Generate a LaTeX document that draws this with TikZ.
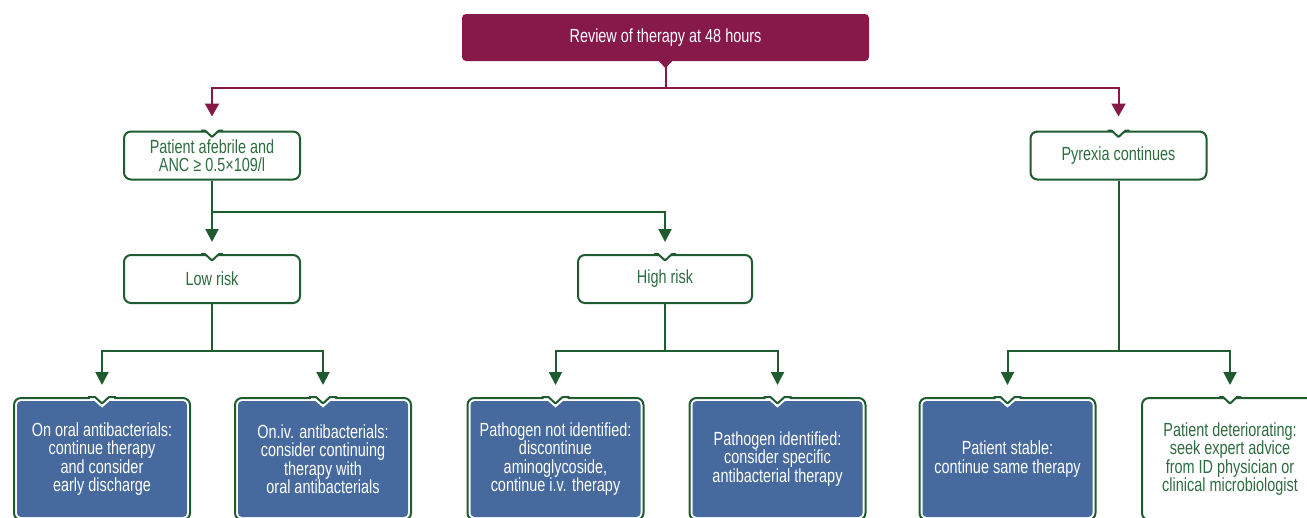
\documentclass[tikz,border=0pt]{standalone}
\usepackage{fontspec}
\setmainfont{Liberation Sans}[FakeStretch=0.76]
\usetikzlibrary{arrows.meta,calc}
\definecolor{maroon}{HTML}{86194A}
\definecolor{dgreen}{HTML}{1E5C30}
\definecolor{tgreen}{HTML}{2F6C40}
\definecolor{boxblue}{HTML}{476A9E}
\tikzset{
 base/.style={align=center, inner sep=0pt, font=\fontsize{19}{18.5}\selectfont},
 topbox/.style={base, fill=maroon, text=white, rounded corners=4pt, minimum width=407pt, minimum height=47pt},
 wbox/.style={base, draw=dgreen, line width=2pt, fill=white, text=tgreen, rounded corners=7pt, minimum width=176pt, minimum height=48pt},
 bbox/.style={base, draw=dgreen, line width=2pt, fill=white, text=white, rounded corners=7pt, minimum width=176pt, minimum height=122pt,
   path picture={\fill[boxblue, rounded corners=4pt] ($(path picture bounding box.north west)+(3,3)$) rectangle ($(path picture bounding box.south east)+(-3,-3)$);}},
 tbox/.style={wbox, minimum height=122pt},
 conn/.style={dgreen, line width=2pt},
 arr/.style={conn, -{Triangle[width=13pt,length=13pt]}, shorten >=12pt},
 mconn/.style={maroon, line width=2pt},
 marr/.style={mconn, -{Triangle[width=14pt,length=13pt]}, shorten >=14pt},
}
\newcommand{\wnotch}[1]{%
 \fill[white] ($(#1.north)+(-8,-1.3)$) -- ($(#1.north)+(8,-1.3)$) -- ($(#1.north)+(0,6.5)$) -- cycle;
 \draw[conn, line join=round] ($(#1.north)+(-11,0)$) -- ($(#1.north)+(-7,0)$) -- ($(#1.north)+(0,6.5)$) -- ($(#1.north)+(7,0)$) -- ($(#1.north)+(11,0)$);}
\newcommand{\bnotch}[1]{%
 \fill[white] ($(#1.north)+(-12,-1.3)$) -- ($(#1.north)+(12,-1.3)$) -- ($(#1.north)+(12,2.9)$) -- ($(#1.north)+(8.7,2.9)$) -- ($(#1.north)+(0,10.5)$) -- ($(#1.north)+(-8.7,2.9)$) -- ($(#1.north)+(-12,2.9)$) -- cycle;
 \draw[conn, line join=round] ($(#1.north)+(-14,0)$) -- ($(#1.north)+(-7,0)$) -- ($(#1.north)+(0,6.5)$) -- ($(#1.north)+(7,0)$) -- ($(#1.north)+(14,0)$);}
\begin{document}
\begin{tikzpicture}[x=1pt,y=-1pt]
\useasboundingbox (0,0) rectangle (1307,517);
\clip (0,0) rectangle (1307,517);
% nodes
\node[topbox] (top) at (665.5,37.5) {Review of therapy at 48 hours};
\node[wbox] (afeb) at (212,155.5) {Patient afebrile and\\ANC ≥ 0.5×109/l};
\node[wbox] (pyr) at (1118.5,155.5) {Pyrexia continues};
\node[wbox] (low) at (212,279) {Low risk};
\node[wbox, minimum width=174pt] (high) at (665,279) {High risk};
\node[bbox] (b1) at (102,459) {On oral antibacterials:\\continue therapy\\and consider\\early discharge};
\node[bbox] (b2) at (323,459) {On.iv. antibacterials:\\consider continuing\\therapy with\\oral antibacterials};
\node[bbox] (b3) at (555.5,459) {Pathogen not identified:\\discontinue\\aminoglycoside,\\continue i.v. therapy};
\node[bbox] (b4) at (777.5,459) {Pathogen identified:\\consider specific\\antibacterial therapy};
\node[bbox] (b5) at (1007.5,459) {Patient stable:\\continue same therapy};
\node[tbox] (b6) at (1230,459) {Patient deteriorating:\\seek expert advice\\from ID physician or\\clinical microbiologist};
% notches
\wnotch{afeb}\wnotch{pyr}\wnotch{low}\wnotch{high}\wnotch{b6}
\bnotch{b1}\bnotch{b2}\bnotch{b3}\bnotch{b4}\bnotch{b5}
% top tail
\fill[maroon] ($(top.south)+(-7,-0.5)$) -- ($(top.south)+(7,-0.5)$) -- ($(top.south)+(0,7)$) -- cycle;
% junctions
\coordinate (j1) at (665.5,88);
\coordinate (j2) at (212,212);
\coordinate (j3) at (212,351);
\coordinate (j4) at (665,351);
\coordinate (j5) at (1118.5,351);
% connectors
\draw[mconn] (top.south) -- (j1);
\draw[marr] (j1) -| (afeb.north);
\draw[marr] (j1) -| (pyr.north);
\draw[arr] (afeb.south) -- (low.north);
\draw[arr] (j2) -| (high.north);
\draw[conn] (low.south) -- (j3);
\draw[arr] (j3) -| (b1.north);
\draw[arr] (j3) -| (b2.north);
\draw[conn] (high.south) -- (j4);
\draw[arr] (j4) -| (b3.north);
\draw[arr] (j4) -| (b4.north);
\draw[conn] (pyr.south) -- (j5);
\draw[arr] (j5) -| (b5.north);
\draw[arr] (j5) -| (b6.north);
\end{tikzpicture}
\end{document}
